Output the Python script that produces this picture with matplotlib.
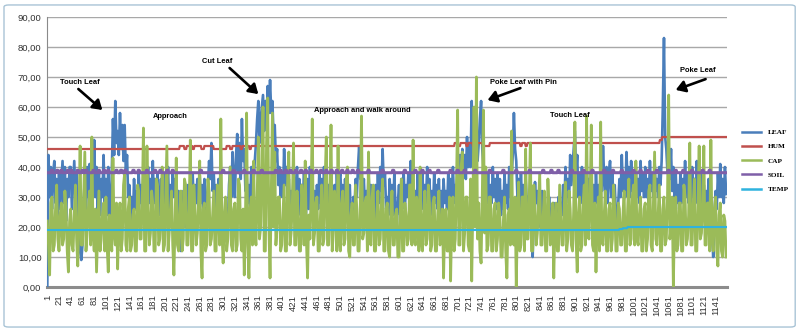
import numpy as np
import matplotlib.pyplot as plt
from matplotlib.ticker import FuncFormatter, FixedLocator
from matplotlib.patches import FancyBboxPatch

N_POINTS = 1160
SAMPLE_STEP = 2

# Leaf sensor, one reading every 2 samples (1, 3, 5, ... 1159); 10 per row
leaf = [
    0, 44, 30, 40, 26, 38, 42, 28, 36, 24,
    38, 26, 34, 42, 28, 40, 22, 36, 30, 40,
    40, 26, 34, 42, 30, 38, 24, 18, 12, 9,
    14, 28, 36, 24, 40, 30, 41, 26, 38, 30,
    49, 30, 40, 26, 38, 24, 36, 30, 44, 28,
    36, 24, 40, 28, 22, 38, 56, 44, 62, 48,
    52, 44, 58, 46, 54, 42, 54, 38, 44, 30,
    34, 24, 30, 22, 36, 26, 32, 24, 38, 28,
    34, 24, 38, 28, 22, 34, 40, 28, 36, 30,
    42, 28, 36, 26, 38, 30, 24, 36, 28, 38,
    26, 36, 30, 40, 24, 34, 28, 38, 30, 36,
    35, 26, 32, 18, 12, 24, 32, 26, 20, 30,
    34, 24, 36, 28, 38, 26, 34, 28, 36, 24,
    37, 28, 34, 24, 36, 28, 22, 34, 42, 36,
    48, 32, 38, 26, 34, 24, 36, 22, 28, 18,
    14, 24, 18, 26, 20, 34, 40, 30, 45, 36,
    30, 44, 51, 38, 48, 36, 56, 42, 46, 32,
    38, 28, 34, 26, 40, 30, 36, 42, 48, 56,
    62, 48, 56, 60, 64, 52, 62, 56, 67, 58,
    69, 58, 62, 50, 54, 42, 46, 34, 40, 30,
    38, 30, 46, 34, 40, 28, 36, 24, 32, 26,
    36, 26, 34, 40, 28, 36, 24, 34, 28, 38,
    18, 28, 36, 26, 40, 30, 38, 24, 32, 22,
    34, 26, 38, 28, 36, 24, 40, 30, 38, 28,
    34, 24, 38, 28, 22, 34, 26, 38, 30, 36,
    38, 28, 34, 24, 36, 26, 38, 24, 34, 22,
    20, 30, 26, 36, 30, 40, 47, 36, 40, 28,
    36, 26, 32, 24, 38, 28, 34, 24, 30, 22,
    34, 26, 38, 28, 40, 32, 46, 34, 38, 26,
    30, 24, 36, 28, 34, 24, 38, 26, 20, 28,
    34, 24, 36, 28, 38, 26, 34, 30, 38, 28,
    42, 30, 36, 26, 32, 24, 38, 28, 34, 26,
    38, 26, 34, 28, 40, 30, 36, 24, 32, 26,
    38, 28, 34, 26, 36, 24, 32, 26, 36, 28,
    32, 26, 38, 28, 36, 30, 40, 28, 34, 30,
    40, 32, 44, 36, 46, 38, 44, 36, 50, 40,
    48, 40, 62, 44, 36, 50, 54, 42, 48, 56,
    62, 46, 40, 30, 36, 28, 38, 26, 34, 28,
    40, 30, 36, 26, 38, 28, 36, 24, 32, 26,
    38, 28, 34, 26, 40, 30, 36, 44, 58, 46,
    42, 30, 36, 26, 38, 28, 34, 24, 36, 28,
    30, 24, 34, 20, 10, 26, 35, 28, 32, 24,
    28, 20, 32, 24, 30, 22, 26, 20, 30, 22,
    26, 20, 28, 22, 26, 18, 30, 22, 28, 24,
    34, 26, 40, 30, 36, 28, 44, 34, 40, 46,
    52, 38, 44, 30, 38, 28, 40, 30, 38, 28,
    42, 30, 36, 26, 38, 28, 34, 24, 38, 28,
    34, 26, 40, 32, 47, 36, 30, 40, 28, 38,
    42, 30, 38, 26, 34, 24, 19, 28, 36, 30,
    44, 32, 38, 30, 45, 34, 40, 30, 42, 32,
    38, 28, 40, 30, 36, 28, 42, 32, 38, 30,
    40, 30, 36, 28, 42, 32, 38, 30, 42, 32,
    36, 30, 40, 34, 42, 60, 83, 50, 46, 38,
    44, 36, 46, 32, 40, 30, 38, 28, 34, 26,
    38, 28, 36, 30, 42, 30, 38, 28, 34, 26,
    40, 30, 36, 28, 42, 30, 36, 26, 38, 28,
    34, 26, 32, 24, 36, 26, 30, 18, 10, 24,
    32, 26, 38, 30, 41, 30, 36, 28, 40, 31,
]

# Capacitance sensor, same sampling
cap = [
    22, 14, 4, 28, 30, 12, 14, 26, 34, 16,
    12, 24, 28, 14, 16, 32, 26, 12, 5, 22,
    26, 14, 12, 24, 34, 16, 7, 24, 47, 14,
    14, 30, 45, 12, 18, 26, 32, 14, 50, 18,
    12, 26, 5, 18, 32, 12, 16, 24, 28, 12,
    30, 14, 5, 24, 22, 12, 43, 18, 14, 28,
    6, 22, 28, 12, 16, 34, 38, 14, 12, 26,
    30, 12, 14, 24, 26, 12, 12, 34, 32, 16,
    16, 28, 53, 12, 12, 47, 26, 14, 18, 32,
    28, 12, 12, 36, 34, 14, 16, 24, 40, 12,
    14, 30, 47, 12, 18, 26, 32, 14, 4, 22,
    43, 14, 12, 24, 32, 12, 16, 36, 34, 14,
    14, 26, 49, 12, 12, 34, 26, 14, 18, 28,
    42, 12, 3, 26, 28, 12, 14, 36, 32, 14,
    16, 24, 32, 12, 12, 34, 26, 14, 56, 18,
    8, 24, 30, 12, 16, 28, 40, 14, 12, 26,
    28, 12, 14, 36, 34, 16, 12, 26, 4, 22,
    58, 14, 3, 26, 30, 14, 42, 18, 14, 30,
    50, 16, 20, 44, 60, 12, 12, 48, 63, 20,
    3, 30, 58, 20, 45, 14, 20, 30, 30, 12,
    14, 24, 34, 12, 12, 36, 45, 14, 18, 28,
    48, 14, 14, 32, 24, 12, 12, 34, 28, 14,
    42, 16, 3, 24, 16, 30, 56, 14, 18, 28,
    30, 12, 12, 24, 34, 14, 16, 36, 50, 14,
    14, 28, 54, 12, 18, 32, 26, 12, 47, 16,
    12, 28, 32, 14, 16, 36, 40, 12, 10, 24,
    28, 14, 14, 34, 26, 12, 12, 28, 57, 16,
    18, 28, 30, 12, 45, 16, 14, 30, 34, 12,
    12, 24, 32, 14, 16, 28, 36, 12, 12, 26,
    28, 12, 10, 26, 32, 14, 14, 24, 26, 10,
    10, 24, 36, 12, 12, 28, 24, 14, 16, 34,
    34, 14, 49, 16, 14, 30, 26, 12, 40, 16,
    12, 24, 32, 14, 16, 34, 28, 12, 14, 28,
    30, 12, 12, 24, 32, 14, 16, 26, 3, 22,
    26, 12, 12, 30, 2, 24, 30, 12, 16, 34,
    59, 14, 14, 40, 45, 12, 18, 30, 30, 14,
    12, 36, 2, 28, 60, 20, 70, 16, 28, 12,
    8, 30, 59, 18, 40, 12, 14, 30, 30, 12,
    12, 26, 28, 12, 16, 28, 24, 10, 10, 22,
    30, 12, 3, 24, 26, 14, 52, 16, 14, 30,
    0, 22, 35, 12, 14, 30, 30, 12, 46, 16,
    16, 28, 48, 12, 12, 34, 26, 14, 18, 28,
    38, 14, 14, 24, 32, 12, 12, 36, 26, 14,
    16, 28, 3, 22, 28, 12, 12, 34, 24, 14,
    14, 28, 35, 12, 16, 32, 26, 14, 12, 26,
    55, 16, 5, 24, 30, 12, 14, 28, 34, 14,
    57, 18, 16, 30, 54, 14, 12, 28, 5, 22,
    30, 12, 55, 16, 14, 24, 32, 12, 12, 26,
    28, 12, 16, 34, 26, 12, 12, 28, 26, 14,
    14, 24, 32, 12, 12, 26, 36, 14, 16, 30,
    34, 14, 42, 16, 14, 24, 30, 12, 12, 26,
    28, 12, 16, 32, 34, 14, 12, 28, 45, 16,
    14, 24, 34, 12, 12, 26, 30, 14, 16, 30,
    64, 16, 20, 30, 0, 24, 30, 12, 14, 28,
    28, 12, 12, 34, 30, 14, 16, 24, 48, 14,
    14, 28, 36, 12, 12, 26, 47, 16, 18, 28,
    47, 14, 14, 28, 28, 12, 49, 16, 12, 26,
    30, 12, 7, 24, 28, 12, 10, 24, 22, 10,
]

# Humidity: level and number of samples it holds
hum_levels = [46, 47, 46, 47, 46, 47, 46, 47, 46, 47, 46, 47, 46, 47, 46, 47,
              48, 47, 48, 47, 48, 47, 48, 47,
              48, 47, 48, 47, 48, 49, 50]
hum_runs = [226, 8, 4, 10, 3, 12, 5, 16, 22, 6, 4, 14, 3, 12, 3, 347,
            6, 4, 10, 3, 8, 5, 12, 12,
            52, 3, 6, 3, 226, 4, 111]

# Temperature: level and number of samples it holds
temp_levels = [19.0, 19.3, 19.6, 20.0]
temp_runs = [976, 6, 8, 170]

# Soil moisture: base level with short upward blips
soil_base = 38.1
soil_high = 38.9
soil_bump_width = 3
soil_bump_starts = [8, 17, 24, 35, 41, 52, 60, 66, 79, 88, 97, 104, 118, 126,
                    133, 147, 156, 170, 184, 193, 205, 214, 262, 300, 318, 336,
                    352, 366, 390, 398, 407, 415, 424, 433, 441, 450, 459, 467,
                    476, 485, 494, 503, 512, 521, 530, 548, 572, 590, 610, 628,
                    640, 652, 667, 688, 700, 712, 730, 755, 778, 800, 823, 846,
                    860, 872, 895, 915, 930, 950, 965, 980, 1000, 1012, 1025,
                    1040, 1060, 1072, 1085, 1100, 1118, 1130]

tick_values = list(range(1, N_POINTS, 20))
tick_labels = [str(v) for v in tick_values]

series_colors = {
    "LEAF": "#4a7ebb",
    "HUM": "#c0504d",
    "CAP": "#9bbb59",
    "SOIL": "#7f5fa8",
    "TEMP": "#2fb3de",
}

# ---- assemble series -------------------------------------------------------
x_full = np.arange(1, N_POINTS + 1)
x_sampled = x_full[::SAMPLE_STEP]
hum = np.repeat(hum_levels, hum_runs)
temp = np.repeat(temp_levels, temp_runs)
soil = np.full(N_POINTS, soil_base)
for s in soil_bump_starts:
    soil[s - 1:s - 1 + soil_bump_width] = soil_high

# ---- figure ----------------------------------------------------------------
fig = plt.figure(figsize=(8.0, 3.31), dpi=100)
fig.patch.set_facecolor("white")
ax = fig.add_axes([0.05875, 0.1329, 0.8500, 0.8157])

ax.plot(x_sampled, leaf, color=series_colors["LEAF"], lw=1.9, label="LEAF", zorder=3)
ax.plot(x_full, hum, color=series_colors["HUM"], lw=1.6, label="HUM", zorder=4)
ax.plot(x_sampled, cap, color=series_colors["CAP"], lw=2.0, label="CAP", zorder=5)
ax.plot(x_full, soil, color=series_colors["SOIL"], lw=2.2, label="SOIL", zorder=6)
ax.plot(x_full, temp, color=series_colors["TEMP"], lw=1.5, label="TEMP", zorder=7)

ax.set_xlim(0.5, N_POINTS + 0.5)
ax.set_ylim(0, 90)
ax.set_yticks(np.arange(0, 91, 10))
ax.yaxis.set_major_formatter(FuncFormatter(lambda v, p: f"{v:.2f}".replace(".", ",")))
ax.yaxis.grid(True, color="#a8a8a8", lw=1.0, zorder=0)
ax.set_axisbelow(True)

ax.xaxis.set_major_locator(FixedLocator(tick_values))
ax.set_xticklabels(tick_labels, rotation=90, fontsize=6.8, color="#333333",
                   family="Liberation Sans")
ax.tick_params(axis="x", direction="inout", length=3, width=1, color="white", pad=4)
ax.tick_params(axis="y", length=0, labelsize=6.8, labelcolor="#333333", pad=4)
for lab in ax.get_yticklabels():
    lab.set_family("Liberation Sans")

for side in ("top", "right"):
    ax.spines[side].set_visible(False)
ax.spines["left"].set_color("#8a8a8a")
ax.spines["left"].set_linewidth(0.8)
ax.spines["bottom"].set_color("#8c8c8c")
ax.spines["bottom"].set_linewidth(2.2)
ax.spines["bottom"].set_zorder(2)

# ---- event annotations -----------------------------------------------------
note_style = dict(fontsize=5.4, fontweight="bold", family="Liberation Sans",
                  ha="center", va="center", color="black", zorder=10)
arrow_style = dict(arrowstyle="-|>,head_length=0.55,head_width=0.35",
                   lw=1.9, color="black", shrinkA=0, shrinkB=0)

ax.text(57, 68.3, "Touch Leaf", **note_style)
ax.annotate("", xy=(95, 59), xytext=(54, 66), arrowprops=arrow_style, zorder=10)
ax.text(290, 75.3, "Cut Leaf", **note_style)
ax.annotate("", xy=(361, 64.3), xytext=(312, 73), arrowprops=arrow_style, zorder=10)
ax.text(211, 56.7, "Approach", **note_style)
ax.text(538, 59, "Approach and walk around", **note_style)
ax.text(813, 68.3, "Poke Leaf with Pin", **note_style)
ax.annotate("", xy=(752, 62.3), xytext=(808, 66.3), arrowprops=arrow_style, zorder=10)
ax.text(893, 57.3, "Touch Leaf", **note_style)
ax.text(1110, 72.3, "Poke Leaf", **note_style)
ax.annotate("", xy=(1073, 65.7), xytext=(1124, 69.3), arrowprops=arrow_style, zorder=10)

# ---- legend ----------------------------------------------------------------
handles, labels = ax.get_legend_handles_labels()
leg = fig.legend(handles, labels, loc="upper left", bbox_to_anchor=(0.9275, 0.610),
                 frameon=False, borderpad=0, borderaxespad=0, handlelength=2.6,
                 handletextpad=1.0, labelspacing=1.14,
                 prop={"family": "Liberation Serif", "weight": "bold", "size": 5.2})
for line in leg.get_lines():
    line.set_linewidth(1.8)

# chart frame
fig.patches.append(FancyBboxPatch((0.005, 0.012), 0.989, 0.973,
                                  boxstyle="round,pad=0,rounding_size=0.006",
                                  transform=fig.transFigure, fill=False,
                                  ec="#a9c4d6", lw=1.0))

fig.savefig("out.png", dpi=100)
